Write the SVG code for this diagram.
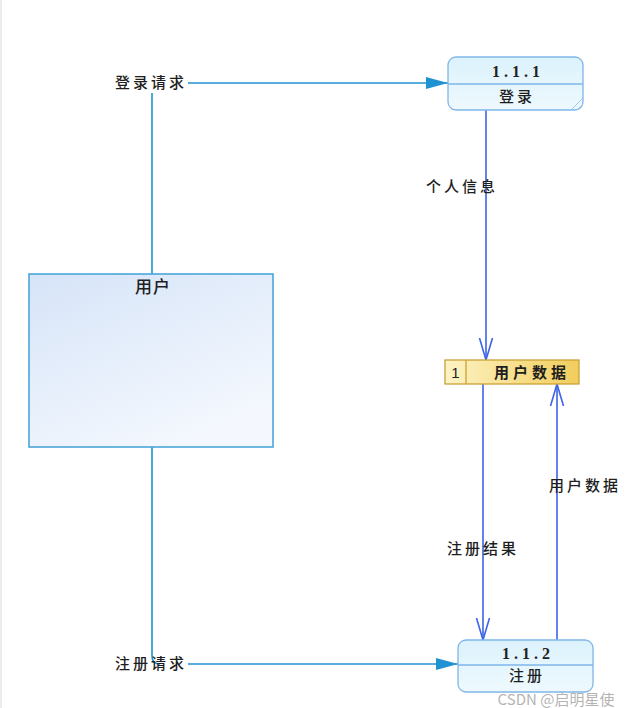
<svg xmlns="http://www.w3.org/2000/svg" width="642" height="708" viewBox="0 0 642 708">
<style>
.t{font-family:"Noto Sans CJK SC","Noto Sans",sans-serif;font-size:15px;font-weight:500;fill:#1e1e1e;letter-spacing:3px}
.num{font-family:"Liberation Serif","DejaVu Serif",serif;font-size:16px;font-weight:bold;fill:#222;letter-spacing:4px}
.req{fill:none;stroke:#1f93d2;stroke-width:1.6}
.flow{fill:none;stroke:#3d63e6;stroke-width:1.6}
.proc{stroke:#7fb6e8;stroke-width:1.3}
</style>
<defs>
<linearGradient id="gUser" x1="0" y1="0" x2="0.6" y2="1">
<stop offset="0" stop-color="#d6e4f8"/>
<stop offset="1" stop-color="#f4f8fe"/>
</linearGradient>
<linearGradient id="gProc" x1="0" y1="0" x2="0" y2="1">
<stop offset="0" stop-color="#dcf2fc"/>
<stop offset="1" stop-color="#eef9fe"/>
</linearGradient>
<linearGradient id="gStore" x1="0" y1="0" x2="1" y2="0">
<stop offset="0" stop-color="#fdf3c4"/>
<stop offset="1" stop-color="#f2cd5c"/>
</linearGradient>
<marker id="filled" markerWidth="22" markerHeight="12" refX="22" refY="6" orient="auto" markerUnits="userSpaceOnUse">
<path d="M0,0 L22,6 L0,12 Z" fill="#1f93d2"/>
</marker>
<marker id="open" markerWidth="24" markerHeight="16" refX="22" refY="8" orient="auto" markerUnits="userSpaceOnUse">
<path d="M0,1.5 L22,8 L0,14.5" fill="none" stroke="#3d63e6" stroke-width="1.6"/>
</marker>
</defs>
<rect width="642" height="708" fill="#ffffff"/>
<line x1="1" y1="0" x2="1" y2="708" stroke="#ececec" stroke-width="2"/>

<g id="connectors">
<path class="req" d="M152,274 V93"/>
<path class="req" d="M188,83 H448" marker-end="url(#filled)"/>
<path class="req" d="M152,447 V656 Q152,664 160,664"/>
<path class="req" d="M188,664 H458" marker-end="url(#filled)"/>
<path class="flow" d="M486,110 V360" marker-end="url(#open)"/>
<path class="flow" d="M483,384 V640" marker-end="url(#open)"/>
<path class="flow" d="M557,640 V384" marker-end="url(#open)"/>
<text class="t" x="151" y="88" text-anchor="middle">登录请求</text>
<text class="t" x="151" y="669" text-anchor="middle">注册请求</text>
<text class="t" x="462" y="192" text-anchor="middle">个人信息</text>
<text class="t" x="483" y="554" text-anchor="middle">注册结果</text>
<text class="t" x="585" y="491" text-anchor="middle">用户数据</text>
</g>

<g id="user">
<rect x="29" y="274" width="244" height="173" fill="url(#gUser)" stroke="#4aa6da" stroke-width="1.6"/>
<text class="t" x="153" y="293" text-anchor="middle" style="font-size:17px;letter-spacing:1px">用户</text>
</g>

<g id="login">
<rect class="proc" x="448" y="57" width="135" height="53" rx="8" fill="url(#gProc)"/>
<line class="proc" x1="448" y1="84" x2="583" y2="84"/>
<path d="M571,110 L583,98 M577,110 L583,104" stroke="#9cc6ea" stroke-width="1" fill="none"/>
<text class="num" x="518" y="77" text-anchor="middle">1.1.1</text>
<text class="t" x="517" y="102" text-anchor="middle">登录</text>
</g>

<g id="userdata">
<rect x="445" y="360" width="134" height="24" fill="url(#gStore)" stroke="#c9a234" stroke-width="1.3"/>
<line x1="466" y1="360" x2="466" y2="384" stroke="#c9a234" stroke-width="1.3"/>
<text x="455.5" y="378" text-anchor="middle" style="font-family:'Liberation Sans',sans-serif;font-size:15px;fill:#222">1</text>
<text class="t" x="532" y="378" text-anchor="middle" style="font-weight:bold;letter-spacing:4px">用户数据</text>
</g>

<g id="register">
<rect class="proc" x="458" y="640" width="135" height="52" rx="8" fill="url(#gProc)"/>
<line class="proc" x1="458" y1="665" x2="593" y2="665"/>
<text class="num" x="528" y="659" text-anchor="middle">1.1.2</text>
<text class="t" x="527" y="681" text-anchor="middle">注册</text>
</g>

<text x="556" y="705" text-anchor="middle" style="font-family:'Noto Sans CJK SC','Noto Sans',sans-serif;font-size:15px;fill:#9a9a9a;fill-opacity:0.75">CSDN @启明星使</text>
</svg>
